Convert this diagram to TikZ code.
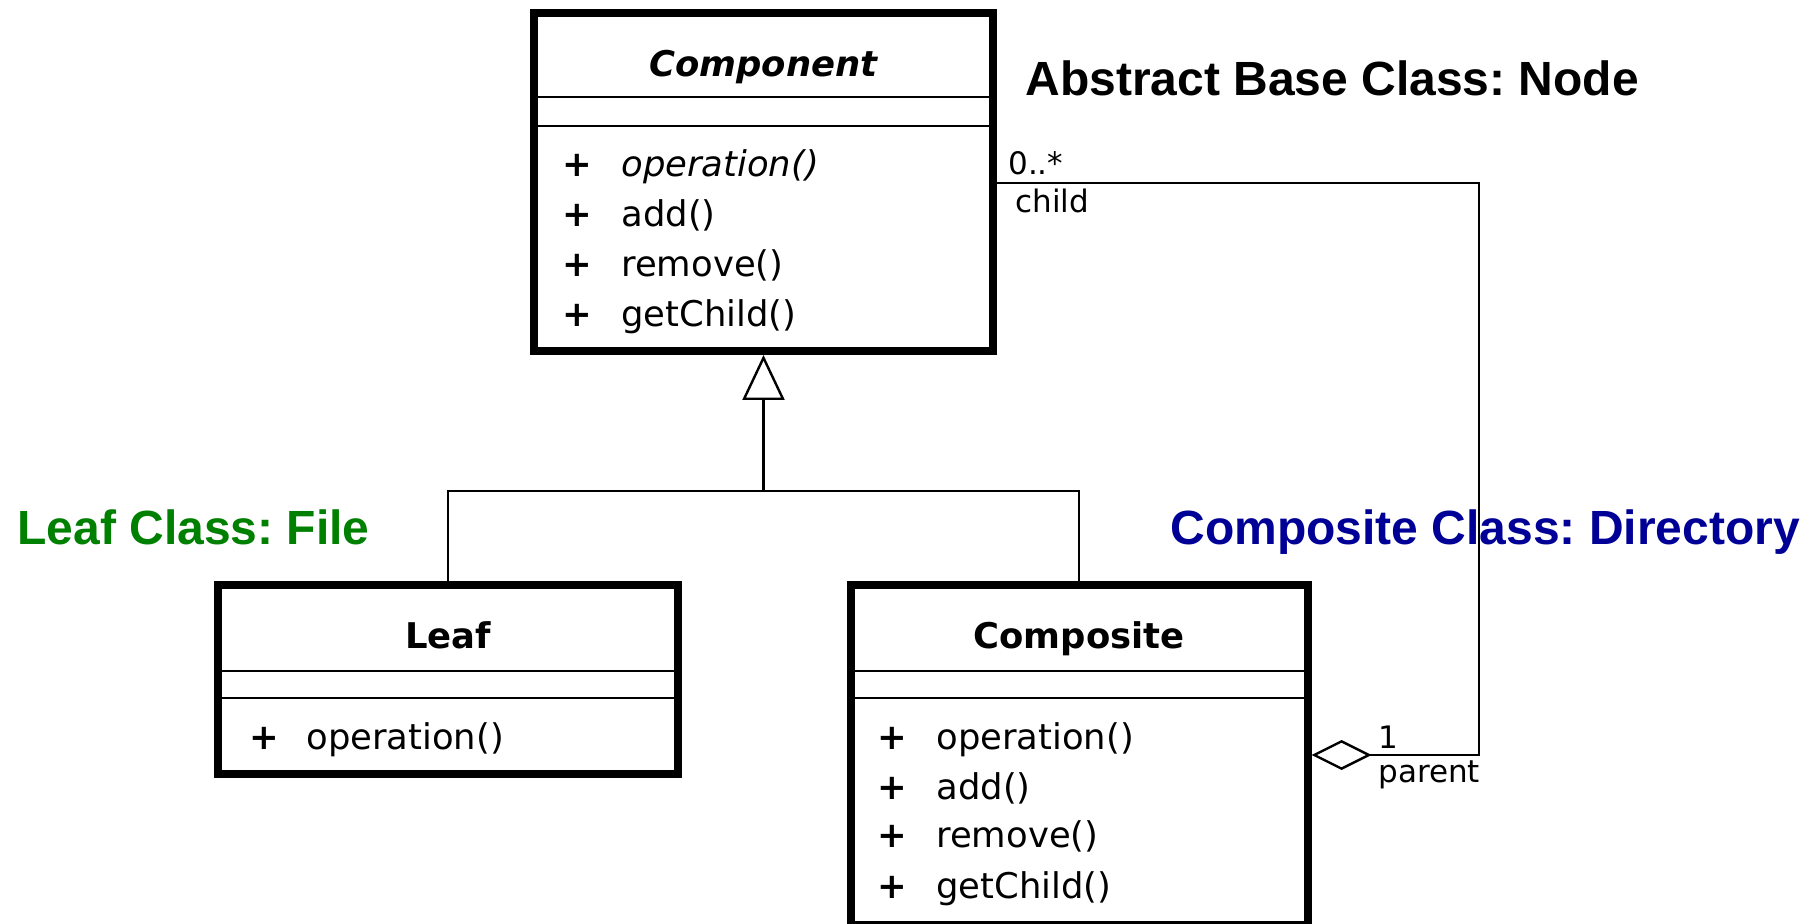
\documentclass[tikz,border=0pt]{standalone}
\usepackage{fontspec}
\setmainfont{DejaVu Sans}
\newfontfamily\notefont{Liberation Sans}
\usetikzlibrary{arrows.meta}
\frenchspacing

\definecolor{leafgreen}{RGB}{0,128,0}
\definecolor{compblue}{RGB}{0,0,150}

\tikzset{
  classbox/.style={draw, line width=4pt, inner sep=0pt},
  divider/.style={line width=1.2pt},
  title/.style={font=\fontsize{17.7}{20}\selectfont\bfseries, inner sep=0pt, text height=13pt, text depth=4pt},
  member/.style={font=\fontsize{17.7}{20}\selectfont, inner sep=0pt, anchor=west, text height=13pt, text depth=4pt},
  plus/.style={font=\fontsize{17.7}{20}\selectfont\bfseries, inner sep=0pt, text height=13pt, text depth=4pt},
  role/.style={font=\fontsize{15.5}{18}\selectfont, inner sep=0pt, anchor=west},
  note/.style={font=\fontsize{24}{28}\selectfont\notefont\bfseries, inner sep=0pt, anchor=west, text height=17pt, text depth=5pt},
  inherit/.style={line width=1.2pt, -{Triangle[open, length=22.5pt, width=21pt, fill=white]}},
  aggr/.style={line width=1.2pt, {Diamond[open, length=30pt, width=15pt, fill=white]}-}
}

\begin{document}
\begin{tikzpicture}[x=0.5pt, y=-0.5pt]
  \useasboundingbox (0,0) rectangle (1816,924);

  % Component
  \node[classbox, minimum width=229.5pt, minimum height=169pt] (comp) at (763.5,182) {};
  \node[title, font=\fontsize{17.7}{20}\selectfont\bfseries\itshape] (tcomp) at (763.5,68) {Component};
  \draw[divider] (534,97) -- (993,97);
  \draw[divider] (534,126) -- (993,126);
  \node[plus] (p1) at (577,168) {+};
  \node[member, font=\fontsize{17.7}{20}\selectfont\itshape] (cop) at (621,168) {operation()};
  \node[plus] (p2) at (577,218) {+};
  \node[member] (cadd) at (621,218) {add()};
  \node[plus] (p3) at (577,268) {+};
  \node[member] (crem) at (621,268) {remove()};
  \node[plus] (p4) at (577,318) {+};
  \node[member] (cget) at (621,318) {getChild()};

  \node[note] (nbase) at (1025,84) {Abstract Base Class: Node};

  % Leaf
  \node[classbox, minimum width=230pt, minimum height=94.5pt] (leaf) at (448,679.5) {};
  \node[title] (tleaf) at (448,639.5) {Leaf};
  \draw[divider] (218,671) -- (678,671);
  \draw[divider] (218,698) -- (678,698);
  \node[plus] (p5) at (264,740) {+};
  \node[member] (lop) at (306,740) {operation()};

  \node[note, text=leafgreen] (nleaf) at (17,533) {Leaf Class: File};

  % Composite
  \node[classbox, minimum width=228.5pt, minimum height=170pt] (compos) at (1079,755) {};
  \node[title] (tcompos) at (1079,639.5) {Composite};
  \draw[divider] (851,671) -- (1307,671);
  \draw[divider] (851,698) -- (1307,698);
  \node[plus] (p6) at (892,740) {+};
  \node[member] (sop) at (936,740) {operation()};
  \node[plus] (p7) at (892,790) {+};
  \node[member] (sadd) at (936,790) {add()};
  \node[plus] (p8) at (892,839) {+};
  \node[member] (srem) at (936,839) {remove()};
  \node[plus] (p9) at (892,889) {+};
  \node[member] (sget) at (936,889) {getChild()};

  \node[note, text=compblue] (ncompos) at (1170,533) {Composite Class: Directory};

  % inheritance
  \coordinate (joint) at (763.5,491);
  \draw[line width=1.2pt] (leaf.north) |- (joint) -| (compos.north);
  \draw[inherit] (joint) -- (comp.south);

  % aggregation
  \coordinate (up) at (1479,183);
  \coordinate (down) at (1479,755);
  \draw[aggr] (compos.east) -- (down) -- (up) -- (comp.east |- up);
  \node[role] (many) at (1008,163) {0..*};
  \node[role] (child) at (1015,201) {child};
  \node[role] (one) at (1378,737) {1};
  \node[role] (parent) at (1378,775) {parent};
\end{tikzpicture}
\end{document}
